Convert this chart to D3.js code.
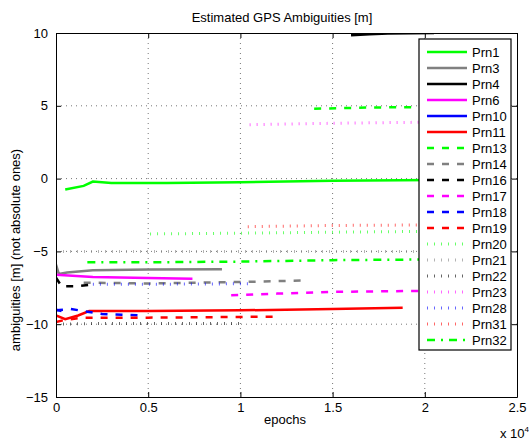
<!DOCTYPE html>
<html>
<head>
<meta charset="utf-8">
<script src="https://cdn.jsdelivr.net/npm/d3@7"></script>
<style>
  body { margin: 0; background: #fff; }
  text { font-family: "Liberation Sans", Arial, sans-serif; fill: #000; }
</style>
</head>
<body>
<div id="chart"></div>
<script>
// series values: [epoch, ambiguity in m]
var prn1  = [[500, -0.75], [1500, -0.5], [2000, -0.2], [3000, -0.3], [6000, -0.3], [10000, -0.25], [15000, -0.15], [20500, -0.1]];
var prn3  = [[0, -5.9], [150, -6.55], [600, -6.45], [2000, -6.3], [5000, -6.25], [9000, -6.22]];
var prn4  = [[16000, 9.85], [17000, 9.92], [18000, 9.97], [20500, 10.0]];
var prn6  = [[0, -6.6], [2000, -6.75], [5000, -6.83], [7400, -6.88]];
var prn10 = [[0, -9.0], [300, -9.1]];
var prn11 = [[0, -9.4], [500, -9.65], [1200, -9.4], [1800, -9.1], [5000, -9.1], [10000, -9.05], [15000, -8.95], [18800, -8.87]];
var prn13 = [[14000, 4.8], [17000, 4.88], [20500, 4.92]];
var prn14 = [[1500, -7.15], [5000, -7.2], [10000, -7.1], [13500, -7.0]];
var prn16 = [[0, -6.8], [300, -7.4], [1000, -7.4], [1800, -7.3]];
var prn17 = [[9500, -8.02], [12000, -7.9], [15000, -7.78], [20500, -7.7]];
var prn18 = [[0, -9.05], [800, -8.95], [1500, -9.1], [2500, -9.3], [4700, -9.4]];
var prn19 = [[0, -9.85], [500, -9.7], [1500, -9.55], [5000, -9.55], [12000, -9.48]];
var prn20 = [[5100, -3.8], [10000, -3.75], [15000, -3.68], [20500, -3.62]];
var prn21 = [[0, -5.0], [20500, -5.0]];
var prn22 = [[0, -10.0], [2000, -9.95], [5000, -9.95], [10000, -9.95]];
var prn23 = [[10500, 3.7], [15000, 3.8], [20500, 3.88]];
var prn28 = [[2000, -7.25], [6000, -7.25], [10500, -7.22]];
var prn31 = [[10400, -3.3], [15000, -3.22], [20500, -3.18]];
var prn32 = [[1700, -5.75], [5000, -5.75], [10000, -5.7], [15000, -5.6], [20500, -5.55]];

var prnNames = ["Prn1", "Prn3", "Prn4", "Prn6", "Prn10", "Prn11", "Prn13", "Prn14", "Prn16",
                "Prn17", "Prn18", "Prn19", "Prn20", "Prn21", "Prn22", "Prn23", "Prn28", "Prn31", "Prn32"];
var prnData = [prn1, prn3, prn4, prn6, prn10, prn11, prn13, prn14, prn16,
               prn17, prn18, prn19, prn20, prn21, prn22, prn23, prn28, prn31, prn32];

var xTicks = [0, 5000, 10000, 15000, 20000, 25000];
var yTicks = [-15, -10, -5, 0, 5, 10];

// line styles cycle: solid, dashed, dotted, dash-dot over a colour cycle
var colorCycle = ["#00ff00", "#808080", "#000000", "#ff00ff", "#0000ff", "#ff0000"];
var dashCycle = [null, "7,8", "1,6", "8,6,2,6"];

var margin = {top: 33, left: 56, right: 12, bottom: 43},
    width = 529 - margin.left - margin.right,
    height = 440 - margin.top - margin.bottom;

var svg = d3.select("#chart")
    .append("svg")
    .attr("width", 529)
    .attr("height", 440);

var g = svg.append("g")
    .attr("transform", "translate(" + margin.left + "," + margin.top + ")");

var x = d3.scaleLinear().domain([0, 25000]).range([0, width]);
var y = d3.scaleLinear().domain([-15, 10]).range([height, 0]);

// grid
g.selectAll(".vgrid")
    .data(xTicks.slice(1, -1))
    .enter().append("line")
    .attr("x1", d => x(d)).attr("x2", d => x(d))
    .attr("y1", 0).attr("y2", height)
    .attr("stroke", "#777").attr("stroke-width", 1)
    .attr("stroke-dasharray", "1,4");

g.selectAll(".hgrid")
    .data(yTicks.slice(1, -1))
    .enter().append("line")
    .attr("x1", 0).attr("x2", width)
    .attr("y1", d => y(d)).attr("y2", d => y(d))
    .attr("stroke", "#777").attr("stroke-width", 1)
    .attr("stroke-dasharray", "1,4");

g.append("clipPath").attr("id", "clip")
    .append("rect").attr("width", width).attr("height", height);

var line = d3.line()
    .x(d => x(d[0]))
    .y(d => y(d[1]));

function styleOf(i) {
    var k = Math.floor(i / 6);
    var dotted = (k === 2);
    return {
        color: colorCycle[i % 6],
        dash: dashCycle[k],
        width: dotted ? 3 : 2.5,
        opacity: dotted ? 0.6 : 1
    };
}

var plot = g.append("g").attr("clip-path", "url(#clip)");
prnData.forEach((series, i) => {
    var s = styleOf(i);
    plot.append("path")
        .datum(series)
        .attr("fill", "none")
        .attr("stroke", s.color)
        .attr("stroke-width", s.width)
        .attr("stroke-opacity", s.opacity)
        .attr("stroke-dasharray", s.dash)
        .attr("d", line);
});

// axes box with inward ticks on all sides
var axisBottom = d3.axisBottom(x).tickValues(xTicks).tickSizeInner(-5).tickSizeOuter(0)
    .tickPadding(9).tickFormat(d => d3.format("")(d / 10000));
var axisLeft = d3.axisLeft(y).tickValues(yTicks).tickSizeInner(-5).tickSizeOuter(0)
    .tickPadding(8);

var gx = g.append("g").attr("transform", "translate(0," + height + ")").call(axisBottom);
var gy = g.append("g").call(axisLeft);
var gt = g.append("g").call(d3.axisTop(x).tickValues(xTicks).tickSizeInner(-5).tickSizeOuter(0).tickFormat(""));
var gr = g.append("g").attr("transform", "translate(" + width + ",0)")
    .call(d3.axisRight(y).tickValues(yTicks).tickSizeInner(-5).tickSizeOuter(0).tickFormat(""));

[gx, gy, gt, gr].forEach(a => {
    a.select(".domain").attr("stroke", "#000").attr("stroke-width", 1);
    a.selectAll(".tick line").attr("stroke", "#000");
    a.selectAll("text").style("font-size", "13px").style("font-family", "Liberation Sans, Arial, sans-serif");
});
gx.selectAll("text").attr("dy", "0.45em");

// labels
svg.append("text")
    .attr("x", 282).attr("y", 22)
    .attr("text-anchor", "middle").style("font-size", "13px")
    .text("Estimated GPS Ambiguities [m]");

svg.append("text")
    .attr("x", 285).attr("y", 424)
    .attr("text-anchor", "middle").style("font-size", "13px")
    .text("epochs");

var xe = svg.append("text").attr("x", 500).attr("y", 438).style("font-size", "13px");
xe.append("tspan").text("x 10");
xe.append("tspan").attr("dy", -6).style("font-size", "8px").text("4");

svg.append("text")
    .attr("transform", "translate(20,250) rotate(-90)")
    .attr("text-anchor", "middle").style("font-size", "13px")
    .text("ambiguities [m] (not absolute ones)");

// legend
var legX = 419, legY = 39, legW = 92, legH = 311, legStep = 16;
var leg = svg.append("g");
leg.append("rect")
    .attr("x", legX).attr("y", legY).attr("width", legW).attr("height", legH)
    .attr("fill", "#fff").attr("stroke", "#000").attr("stroke-width", 1.2);

prnNames.forEach((name, i) => {
    var s = styleOf(i);
    var ly = legY + 13 + i * legStep;
    leg.append("line")
        .attr("x1", legX + 8).attr("x2", legX + 48)
        .attr("y1", ly).attr("y2", ly)
        .attr("stroke", s.color).attr("stroke-width", s.width)
        .attr("stroke-opacity", s.opacity)
        .attr("stroke-dasharray", s.dash);
    leg.append("text")
        .attr("x", legX + 53).attr("y", ly + 5)
        .style("font-size", "13px")
        .text(name);
});
</script>
</body>
</html>
